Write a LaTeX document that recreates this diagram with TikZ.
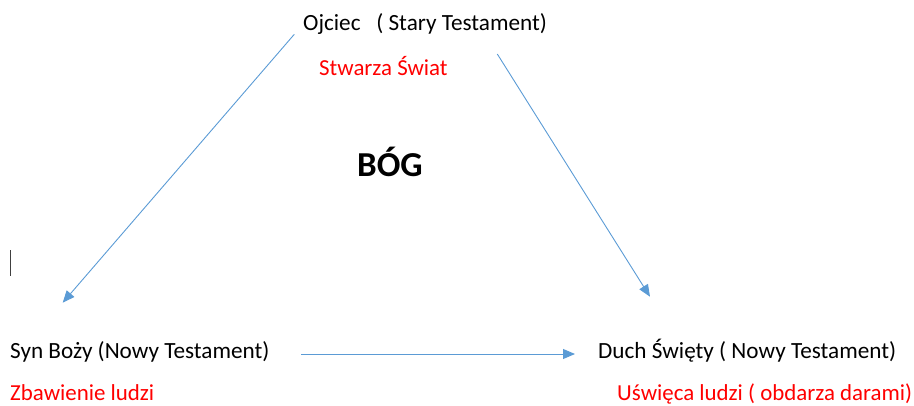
\documentclass[tikz,border=0pt]{standalone}
\usepackage{fontspec}
\setmainfont{Carlito}
\usetikzlibrary{arrows.meta}
\definecolor{arrowblue}{HTML}{5B9BD5}
\definecolor{txtred}{HTML}{FF0000}
\tikzset{
  lbl/.style={anchor=base west, inner sep=0pt, font=\fontsize{23.2}{27}\selectfont, text=black},
  redlbl/.style={lbl, text=txtred, font=\fontsize{22.9}{27}\selectfont},
  title/.style={anchor=base west, inner sep=0pt, font=\bfseries\fontsize{35}{41}\selectfont},
  conn/.style={draw=arrowblue, line width=0.9pt, -{Triangle[length=12pt,width=10pt,fill=arrowblue]}}
}
\begin{document}
\begin{tikzpicture}[x=1pt,y=-1pt]
\useasboundingbox (0,0) rectangle (914,405);
\node[lbl] (ojciec) at (303,30.5) {Ojciec\ \ \ ( Stary Testament)};
\node[redlbl] (stwarza) at (319,75) {Stwarza Świat};
\node[title] (bog) at (357,176) {BÓG};
\node[lbl] (syn) at (10,358) {Syn Boży (Nowy Testament)};
\node[redlbl] (zbaw) at (10,400) {Zbawienie ludzi};
\node[lbl] (duch) at (598,358) {Duch Święty ( Nowy Testament)};
\node[redlbl] (uswieca) at (617,400) {Uświęca ludzi ( obdarza darami)};
\coordinate (a1s) at (294.3,34.3);
\coordinate (a1e) at (62.7,302.7);
\coordinate (a2s) at (497.3,54);
\coordinate (a2e) at (650,296.7);
\coordinate (a3s) at (301,354);
\coordinate (a3e) at (575,354);
\draw[conn] (a1s) -- (a1e);
\draw[conn] (a2s) -- (a2e);
\draw[conn] (a3s) -- (a3e);
\coordinate (cur1) at (10,250);
\coordinate (cur2) at (10,275.5);
\draw[black!75, line width=1pt] (cur1) -- (cur2);
\end{tikzpicture}
\end{document}
